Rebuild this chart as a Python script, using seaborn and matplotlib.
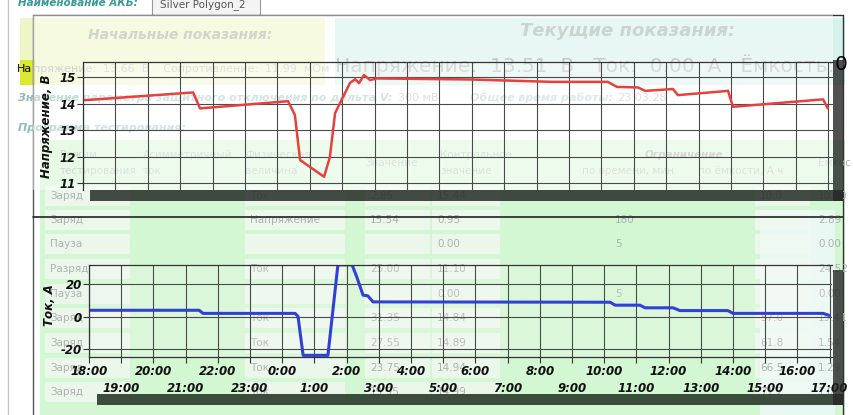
import matplotlib
matplotlib.use('Agg')
import matplotlib.pyplot as plt
from matplotlib.patches import Rectangle
import seaborn as sns

sns.set_theme(style="white")
plt.rcParams['font.family'] = ['DejaVu Sans']

# =========================
# Данные (часы от 18:00)
# =========================
volt_t = [0.06, 3.40, 3.61, 6.33, 6.54, 6.70, 7.44, 7.62, 7.78, 8.24, 8.40, 8.52, 8.67, 8.86,
          9.07, 12.0, 14.48, 16.20, 16.48, 17.13, 17.35, 18.21, 18.36, 19.91, 20.06, 22.84, 22.99]
volt_v = [14.13, 14.42, 13.82, 14.09, 13.57, 11.87, 11.24, 11.98, 13.64, 14.78, 14.92, 14.77, 15.08, 14.89,
          14.95, 14.91, 14.82, 14.82, 14.63, 14.61, 14.48, 14.55, 14.32, 14.48, 13.88, 14.16, 13.82]

curr_t = [0.05, 3.42, 3.54, 6.40, 6.49, 6.65, 7.42, 7.73, 8.17, 8.32, 8.51, 8.66, 8.82,
          16.18, 16.34, 17.11, 17.27, 18.14, 18.35, 19.84, 20.0, 22.8, 22.98]
curr_a = [3.9, 3.9, 2.0, 2.0, 0.2, -23.6, -23.6, 31.6, 31.6, 24.0, 13.1, 12.7, 9.0,
          8.8, 7.0, 7.0, 5.4, 5.4, 3.7, 3.7, 2.0, 2.0, 0.8]

even_hours = list(range(0, 24, 2))
even_labels = ['18:00', '20:00', '22:00', '0:00', '2:00', '4:00', '6:00', '8:00',
               '10:00', '12:00', '14:00', '16:00']
odd_hours = list(range(1, 24, 2))
odd_labels = ['19:00', '21:00', '23:00', '1:00', '3:00', '5:00', '7:00', '9:00',
              '11:00', '13:00', '15:00', '17:00']
volt_ticks = [11, 12, 13, 14, 15]
curr_ticks = [-20, 0, 20]

W, H = 854, 415
fig = plt.figure(figsize=(W / 100, H / 100), dpi=100)
fig.patch.set_facecolor('white')


def fx(x):
    return x / W


def fy(y):
    return 1 - y / H


def rect(x0, y0, x1, y1, color, alpha=1.0, z=-5, edge='none'):
    fig.add_artist(Rectangle((fx(x0), fy(y1)), fx(x1) - fx(x0), fy(y0) - fy(y1),
                             transform=fig.transFigure, facecolor=color, edgecolor=edge,
                             linewidth=0.8, alpha=alpha, zorder=z))


def hline(y, x0, x1, color, lw=1.0, z=-4):
    fig.add_artist(plt.Line2D([fx(x0), fx(x1)], [fy(y), fy(y)], transform=fig.transFigure,
                              color=color, lw=lw, zorder=z))


def vline(x, y0, y1, color, lw=1.0, z=-4):
    fig.add_artist(plt.Line2D([fx(x), fx(x)], [fy(y0), fy(y1)], transform=fig.transFigure,
                              color=color, lw=lw, zorder=z))


def txt(x, y, s, size=8, color='#b0b0b0', **kw):
    fig.text(fx(x), fy(y), s, fontsize=size, color=color, va='center', zorder=-3, **kw)


# =========================
# Фон (скриншот интерфейса)
# =========================
rect(40, 140, 845, 415, '#d3f6d3')
rect(760, 210, 835, 415, '#eaf8f4')
rect(20, 18, 325, 85, '#eef6c8')
rect(20, 60, 35, 85, '#dde830')
rect(335, 18, 845, 85, '#d6f2ec')
rect(33, 15, 833, 190, 'white', alpha=0.45, z=-2)
rect(152, -2, 260, 15, '#f4f4f4', edge='#999999')
txt(18, 3, 'Наименование АКБ:', size=7.5, color='#3a9a9a', fontweight='bold', fontstyle='italic')
txt(160, 5, 'Silver Polygon_2', size=7.5, color='#555555')
vline(8, 0, 415, '#c8c8c8')
vline(33, 15, 415, '#555555')
vline(843, 15, 415, '#333333')
hline(15, 33, 843, '#333333')
hline(217, 33, 843, '#222222', lw=1.2, z=1)

txt(88, 35, 'Начальные показания:', size=10, color='#a9b7a4', fontweight='bold', fontstyle='italic')
txt(520, 31, 'Текущие показания:', size=13, color='#9fb3ab', fontweight='bold', fontstyle='italic')
txt(335, 65, 'Напряжение:  13.51  В   Ток:  0.00  А   Ёмкость:', size=14.5, color='#9c9c9c')
fig.text(fx(835), fy(65), '0', fontsize=14.5, color='black', va='center')
fig.text(fx(17), fy(69), 'На', fontsize=8, color='black', va='center')
txt(33, 69, 'пряжение:  13.66  В    Сопротивление:  11.99  мОм', size=8, color='#b0b0b0')
txt(18, 98, 'Значение параметра защитного отключения по дельта V:', size=8, color='#8fbcbc',
    fontweight='bold', fontstyle='italic')
txt(398, 98, '300 мВ', size=8, color='#b0b0b0')
txt(470, 98, 'Общее время работы:', size=8, color='#a9c9c9', fontweight='bold', fontstyle='italic')
txt(617, 98, '23:03:28', size=8, color='#b0b0b0')
txt(18, 128, 'Программа тестирования:', size=8, color='#8fbcbc', fontweight='bold', fontstyle='italic')

for x, a, b in [(60, 'Режим', 'тестирования'), (143, 'Асимметричный', 'ток'),
                (245, 'Физическая', 'величина'), (440, 'Контрольное', 'значение')]:
    txt(x, 155, a, size=7.5)
    txt(x, 171, b, size=7.5)
txt(365, 163, 'Значение', size=7.5)
txt(645, 155, 'Ограничение', size=7.5, color='#9a9a9a', fontweight='bold', fontstyle='italic')
txt(582, 171, 'по времени, мин.', size=7.5)
txt(698, 171, 'по ёмкости, А·ч', size=7.5)
txt(818, 163, 'Емкос', size=7.5)

row_y = [196, 220, 244, 269, 294, 318, 343, 368, 392]
row_mode = ['Заряд', 'Заряд', 'Пауза', 'Разряд', 'Пауза', 'Заряд', 'Заряд', 'Заряд', 'Заряд']
row_qty = ['Ток', 'Напряжение', '', 'Ток', '', 'Ток', 'Ток', 'Ток', 'Ток']
row_val = ['2.85', '15.54', '', '25.00', '', '31.35', '27.55', '23.75', '19.95']
row_ctl = ['15.44', '0.95', '0.00', '11.10', '0.00', '14.84', '14.89', '14.94', '14.99']
row_cap = ['10.00', '2.89', '0.00', '24.52', '0.00', '19.41', '1.54', '1.29', '1.06']
row_lim = ['10.0', '', '', '', '', '57.0', '61.8', '66.5', '71.2']
for i, y in enumerate(row_y):
    for x0, x1 in [(45, 130), (245, 345), (365, 430), (432, 500), (755, 810)]:
        rect(x0, y - 10, x1, y + 10, '#f2f8f2', alpha=0.8, z=-4)
    txt(50, y, row_mode[i], size=7.5)
    txt(250, y, row_qty[i], size=7.5)
    txt(370, y, row_val[i], size=7.5)
    txt(437, y, row_ctl[i], size=7.5)
    txt(760, y, row_lim[i], size=7.5)
    txt(818, y, row_cap[i], size=7.5)
txt(615, 220, '180', size=7.5)
txt(615, 244, '5', size=7.5)
txt(615, 294, '5', size=7.5)

# тени окон графиков
rect(90, 190, 843, 201, '#262b26', alpha=0.85, z=0.5)
rect(833, 60, 843, 201, '#262626', alpha=0.8, z=0.5)
rect(97, 394, 843, 405, '#1f2e1f', alpha=0.85, z=0.5)
rect(833, 270, 843, 405, '#262626', alpha=0.8, z=0.5)

tick_font = dict(fontweight='bold', fontstyle='italic', fontsize=8.5, color='#111111')
grid_kw = dict(color='#4a4a4a', linewidth=0.8)

# =========================
# Напряжение
# =========================
ax1 = fig.add_axes([fx(83), fy(190), fx(833) - fx(83), fy(62) - fy(190)])
ax1.set_facecolor((1, 1, 1, 0.3))
sns.lineplot(x=volt_t, y=volt_v, ax=ax1, color='#e8403c', linewidth=1.8,
             estimator=None, sort=False)
ax1.set_xlim(0, (833 - 83) / 32.4)
ax1.set_ylim(10.74, 15.57)
ax1.set_xticks(range(0, 24))
ax1.set_yticks(volt_ticks)
ax1.set_yticklabels([str(v) for v in volt_ticks], **tick_font)
ax1.tick_params(axis='x', length=0, labelbottom=False)
ax1.tick_params(axis='y', length=4, width=0.8, pad=1, color='#333333', left=True)
ax1.grid(True, **grid_kw)
for s in ['top', 'left']:
    ax1.spines[s].set_color('#333333')
    ax1.spines[s].set_linewidth(0.9)
for s in ['right', 'bottom']:
    ax1.spines[s].set_visible(False)
ax1.set_ylabel('Напряжение, В', fontsize=8.5, fontweight='bold', fontstyle='italic', color='#111111')
ax1.yaxis.set_label_coords(-0.04, 0.5)

# =========================
# Ток
# =========================
ax2 = fig.add_axes([fx(89), fy(357), fx(832) - fx(89), fy(265) - fy(357)])
ax2.set_facecolor((1, 1, 1, 0.18))
sns.lineplot(x=curr_t, y=curr_a, ax=ax2, color='#3040d8', linewidth=2.2,
             estimator=None, sort=False)
ax2.set_xlim(0, (832 - 89) / 32.2)
ax2.set_ylim(-24.6, 31.5)
ax2.set_xticks(even_hours)
ax2.set_xticklabels(even_labels, **tick_font)
ax2.set_xticks(odd_hours, minor=True)
ax2.set_xticklabels(odd_labels, minor=True, **tick_font)
ax2.tick_params(axis='x', which='major', length=4, width=0.8, pad=2, color='#333333', bottom=True)
ax2.tick_params(axis='x', which='minor', length=4, width=0.8, pad=14, color='#333333', bottom=True)
ax2.set_yticks(curr_ticks)
ax2.set_yticklabels([str(v) for v in curr_ticks], **tick_font)
ax2.tick_params(axis='y', length=4, width=0.8, pad=1, color='#333333', left=True)
ax2.grid(True, which='both', **grid_kw)
for s in ['top', 'left', 'bottom']:
    ax2.spines[s].set_color('#333333')
    ax2.spines[s].set_linewidth(0.9)
ax2.spines['right'].set_visible(False)
ax2.set_ylabel('Ток, А', fontsize=8.5, fontweight='bold', fontstyle='italic', color='#111111')
ax2.yaxis.set_label_coords(-0.045, 0.56)

fig.savefig('out.png', dpi=100)
